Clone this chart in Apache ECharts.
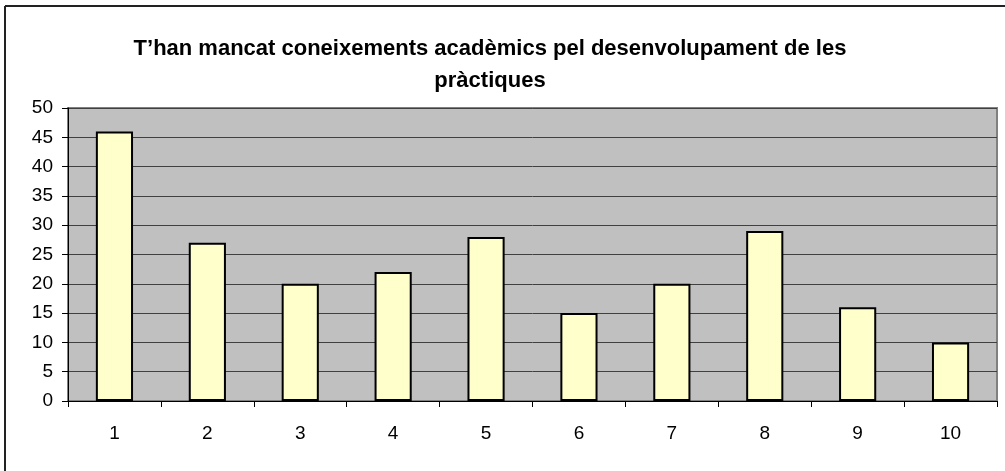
<!DOCTYPE html>
<html>
<head>
<meta charset="utf-8">
<script src="https://cdn.jsdelivr.net/npm/echarts@6/dist/echarts.min.js"></script>
<style>
  html, body { margin: 0; padding: 0; background: #fff; }
  #chart { width: 1005px; height: 471px; }
</style>
</head>
<body>
<div id="chart"></div>
<script>
// dades llegides del gràfic
const titleText = 'T\u2019han mancat coneixements acadèmics pel desenvolupament de les\npràctiques';
const categories = ['1', '2', '3', '4', '5', '6', '7', '8', '9', '10'];
const values = [46, 27, 20, 22, 28, 15, 20, 29, 16, 10];

const chart = echarts.init(document.getElementById('chart'));

const option = {
  animation: false,
  backgroundColor: '#fff',
  title: {
    text: titleText,
    left: 485,
    top: 28,
    textAlign: 'center',
    textStyle: {
      fontFamily: 'Liberation Sans, Arial',
      fontWeight: 'bold',
      fontSize: 22,
      lineHeight: 32,
      color: '#000'
    }
  },
  // marc exterior (només es veuen la vora esquerra i la de dalt)
  graphic: [
    { type: 'line', shape: { x1: 5, y1: 6, x2: 5, y2: 471 }, style: { stroke: '#222', lineWidth: 2 } },
    { type: 'line', shape: { x1: 5, y1: 6, x2: 1005, y2: 6 }, style: { stroke: '#222', lineWidth: 2 } }
  ],
  grid: {
    left: 68,
    right: 8,
    top: 108,
    bottom: 70,
    show: true,
    backgroundColor: '#C0C0C0',
    borderColor: '#808080',
    borderWidth: 2
  },
  xAxis: {
    type: 'category',
    data: categories,
    boundaryGap: true,
    axisLine: { lineStyle: { color: '#000', width: 1 } },
    axisTick: { show: true, length: 6, lineStyle: { color: '#000' } },
    axisLabel: {
      margin: 23,
      fontFamily: 'Liberation Sans, Arial',
      fontSize: 19,
      color: '#000'
    },
    splitLine: { show: false }
  },
  yAxis: {
    type: 'value',
    min: 0,
    max: 50,
    interval: 5,
    axisLine: { show: true, lineStyle: { color: '#000', width: 1 } },
    axisTick: { show: true, length: 6, lineStyle: { color: '#000' } },
    axisLabel: {
      margin: 15,
      fontFamily: 'Liberation Sans, Arial',
      fontSize: 19,
      color: '#000'
    },
    splitLine: { show: true, lineStyle: { color: '#404040', width: 1 } }
  },
  series: [
    {
      type: 'bar',
      data: values,
      barWidth: '40%',
      itemStyle: {
        color: '#FFFFCC',
        borderColor: '#000',
        borderWidth: 2
      }
    }
  ]
};

option && chart.setOption(option);
</script>
</body>
</html>
